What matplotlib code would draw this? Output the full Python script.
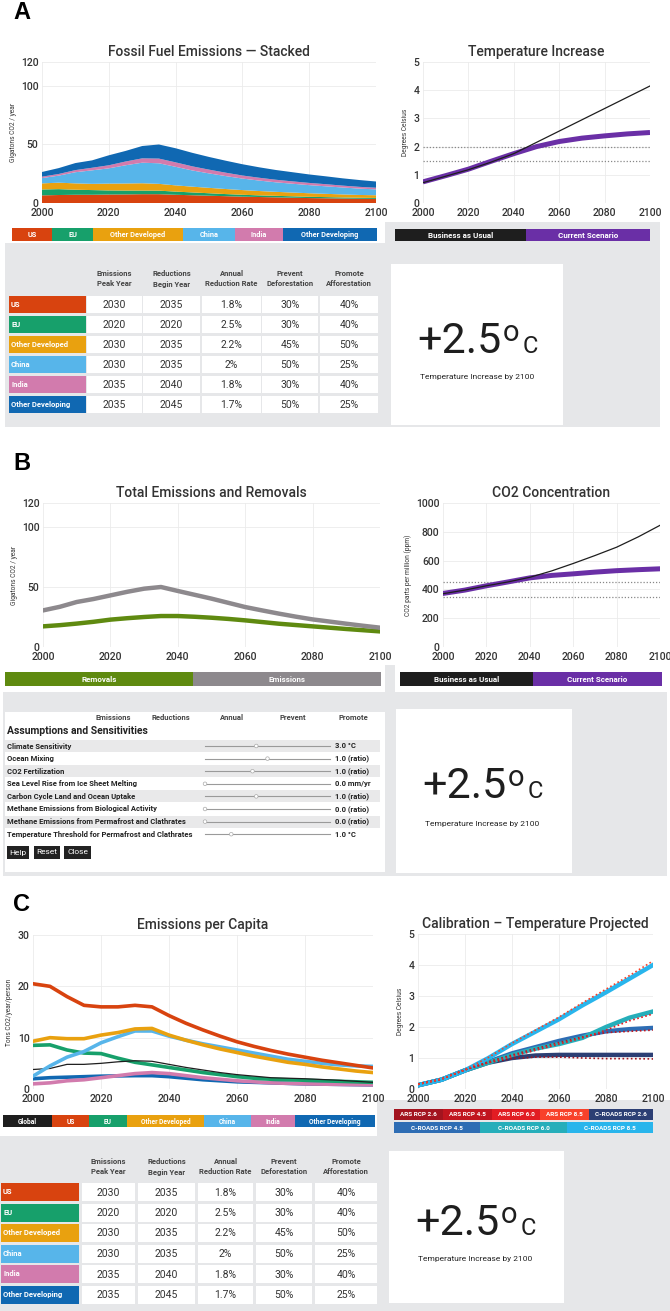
import matplotlib.pyplot as plt
from matplotlib.patches import Rectangle, Circle

plt.rcParams['font.family'] = ['Roboto', 'DejaVu Sans']

W, H = 670, 1311

# ---------------- data ----------------
years5 = list(range(2000, 2101, 5))
years10 = list(range(2000, 2101, 10))

regions = ["US", "EU", "Other Developed", "China", "India", "Other Developing"]
region_colors = ["#d8430f", "#17a06b", "#e9a10f", "#57b5ea", "#d27bad", "#1068b2"]

# stacked fossil fuel emissions (Gt CO2/yr), 5-year steps
ff_us = [6.5, 6.8, 7.0, 7.0, 7.2, 7.3, 7.5, 7.5, 7.0, 6.6, 6.2, 5.8, 5.4, 5.1, 4.8, 4.5, 4.2, 4.0, 3.8, 3.6, 3.5]
ff_eu = [5.0, 5.0, 4.3, 4.0, 3.5, 3.3, 3.1, 3.0, 2.7, 2.4, 2.1, 1.8, 1.6, 1.4, 1.3, 1.2, 1.1, 1.0, 0.9, 0.85, 0.8]
ff_od = [5.2, 5.5, 5.4, 5.3, 5.8, 6.0, 6.2, 5.8, 5.3, 4.9, 4.6, 4.3, 4.0, 3.7, 3.4, 3.2, 3.0, 2.8, 2.6, 2.4, 2.3]
ff_china = [4.5, 6.0, 9.5, 11.5, 13.0, 15.5, 17.5, 17.5, 15.8, 13.8, 12.3, 11.0, 9.8, 8.9, 8.1, 7.5, 6.9, 6.4, 5.9, 5.4, 5.0]
ff_india = [1.2, 1.4, 1.8, 2.2, 2.6, 3.2, 3.7, 4.0, 3.8, 3.5, 3.2, 2.9, 2.6, 2.4, 2.2, 2.0, 1.9, 1.8, 1.6, 1.5, 1.4]
ff_odev = [4.0, 5.0, 6.0, 6.3, 8.5, 9.0, 10.5, 12.0, 12.0, 11.5, 10.8, 10.2, 9.6, 8.9, 8.3, 7.8, 7.2, 6.7, 6.2, 5.8, 5.3]

# temperature increase (deg C), 10-year steps
temp_bau = [0.72, 0.95, 1.18, 1.45, 1.75, 2.15, 2.55, 2.95, 3.35, 3.75, 4.15]
temp_cur = [0.75, 0.97, 1.2, 1.48, 1.75, 2.0, 2.18, 2.3, 2.38, 2.45, 2.5]
temp_limits = [1.5, 2.0]

# total emissions and removals (Gt CO2/yr), 5-year steps
tot_emissions = [30.5, 33.5, 37.5, 40, 43, 46, 48.6, 50, 46.7, 43.5, 40.3, 36.8, 33.3, 30.5, 27.8, 25.3, 23, 21.2, 19.4, 17.7, 16.1]
tot_removals = [17.2, 18.2, 19.5, 21, 22.8, 24, 25, 25.8, 25.8, 25.2, 24.4, 23.4, 22.2, 20.8, 19.4, 18.3, 17.2, 16.1, 15, 14, 13]

# CO2 concentration (ppm), 10-year steps
co2_bau = [370, 395, 425, 452, 484, 528, 580, 635, 693, 765, 845]
co2_cur = [372, 395, 425, 452, 480, 497, 508, 520, 530, 537, 543]
co2_limits = [350, 450]

# emissions per capita (t CO2/yr/person), 5-year steps
pc_global = [3.8, 4.0, 4.8, 4.8, 5.0, 5.3, 5.5, 5.4, 4.8, 4.2, 3.7, 3.2, 2.8, 2.5, 2.2, 2.1, 2.0, 1.85, 1.7, 1.5, 1.3]
pc_us = [20.5, 20.0, 18.0, 16.3, 16.0, 16.0, 16.3, 16.0, 14.3, 12.8, 11.5, 10.3, 9.2, 8.3, 7.5, 6.8, 6.2, 5.6, 5.1, 4.6, 4.1]
pc_eu = [8.5, 8.6, 7.6, 7.0, 6.9, 6.0, 5.2, 4.7, 4.2, 3.7, 3.2, 2.8, 2.4, 2.1, 1.9, 1.8, 1.7, 1.6, 1.5, 1.4, 1.3]
pc_od = [9.3, 10.0, 9.8, 9.8, 10.5, 11.0, 11.7, 11.8, 10.5, 9.5, 8.6, 7.8, 7.1, 6.4, 5.8, 5.2, 4.8, 4.3, 3.9, 3.5, 3.2]
pc_china = [2.5, 4.5, 6.2, 7.3, 9.0, 10.2, 11.3, 11.3, 10.3, 9.5, 8.8, 8.2, 7.6, 7.0, 6.4, 5.8, 5.4, 5.0, 4.7, 4.5, 4.4]
pc_india = [1.0, 1.2, 1.6, 1.8, 2.2, 2.6, 3.0, 3.2, 3.0, 2.6, 2.2, 1.9, 1.6, 1.4, 1.2, 1.1, 1.0, 0.95, 0.9, 0.85, 0.8]
pc_odev = [2.0, 2.2, 2.3, 2.4, 2.5, 2.55, 2.6, 2.6, 2.4, 2.1, 1.8, 1.6, 1.4, 1.3, 1.2, 1.1, 1.0, 0.95, 0.9, 0.85, 0.8]

# calibration runs (deg C), 10-year steps
calib_names = ["ARS RCP 2.6", "ARS RCP 4.5", "ARS RCP 6.0", "ARS RCP 8.5",
               "C-ROADS RCP 2.6", "C-ROADS RCP 4.5", "C-ROADS RCP 6.0", "C-ROADS RCP 8.5"]
calib_colors = ["#a3141f", "#c1151f", "#e21c23", "#f8412a",
                "#2c3f74", "#2e6db4", "#26aeba", "#29b5ec"]
ars26 = [0.15, 0.32, 0.62, 0.85, 0.98, 1.03, 1.03, 1.0, 0.98, 0.98, 0.97]
ars45 = [0.15, 0.32, 0.62, 0.88, 1.1, 1.3, 1.5, 1.68, 1.82, 1.86, 1.9]
ars60 = [0.15, 0.32, 0.62, 0.85, 1.05, 1.25, 1.45, 1.65, 1.9, 2.2, 2.42]
ars85 = [0.15, 0.32, 0.62, 1.02, 1.48, 1.9, 2.32, 2.78, 3.22, 3.66, 4.13]
cr26 = [0.12, 0.3, 0.6, 0.85, 1.0, 1.08, 1.1, 1.1, 1.1, 1.1, 1.1]
cr45 = [0.12, 0.3, 0.6, 0.88, 1.15, 1.35, 1.55, 1.72, 1.86, 1.93, 1.97]
cr60 = [0.12, 0.3, 0.6, 0.85, 1.1, 1.3, 1.45, 1.65, 2.0, 2.3, 2.5]
cr85 = [0.12, 0.3, 0.6, 1.0, 1.45, 1.85, 2.25, 2.7, 3.12, 3.56, 4.0]

# policy table
col_headers = ["Emissions\nPeak Year", "Reductions\nBegin Year", "Annual\nReduction Rate",
               "Prevent\nDeforestation", "Promote\nAfforestation"]
peak_year = ["2030", "2020", "2030", "2030", "2035", "2035"]
reduction_year = ["2035", "2020", "2035", "2035", "2040", "2045"]
reduction_rate = ["1.8%", "2.5%", "2.2%", "2%", "1.8%", "1.7%"]
prevent_defor = ["30%", "30%", "45%", "50%", "30%", "50%"]
promote_affor = ["40%", "40%", "50%", "25%", "40%", "25%"]

# assumptions and sensitivities
assump_labels = ["Climate Sensitivity", "Ocean Mixing", "CO2 Fertilization",
                 "Sea Level Rise from Ice Sheet Melting", "Carbon Cycle Land and Ocean Uptake",
                 "Methane Emissions from Biological Activity",
                 "Methane Emissions from Permafrost and Clathrates",
                 "Temperature Threshold for Permafrost and Clathrates"]
assump_slider = [0.41, 0.50, 0.38, 0.0, 0.41, 0.0, 0.0, 0.21]
assump_values = ["3.0 °C", "1.0 (ratio)", "1.0 (ratio)", "0.0 mm/yr", "1.0 (ratio)",
                 "0.0 (ratio)", "0.0 (ratio)", "1.0 °C"]

final_temp = 2.5

GRAY = "#e6e7e9"
TXT = "#333333"

fig = plt.figure(figsize=(W / 100, H / 100), dpi=100)
bg = fig.add_axes([0, 0, 1, 1])
bg.set_xlim(0, W)
bg.set_ylim(H, 0)
bg.axis('off')


def rect(x0, y0, x1, y1, color):
    bg.add_patch(Rectangle((x0, y0), x1 - x0, y1 - y0, color=color, lw=0))


def chart(x0, y0, x1, y1, title, ylabel, ymax, yticks):
    ax = fig.add_axes([x0 / W, 1 - y1 / H, (x1 - x0) / W, (y1 - y0) / H])
    ax.set_xlim(2000, 2100)
    ax.set_ylim(0, ymax)
    ax.set_xticks(range(2000, 2101, 20))
    ax.set_yticks(yticks)
    ax.grid(color='#ebebeb', lw=0.6)
    ax.set_axisbelow(True)
    for s in ax.spines.values():
        s.set_visible(False)
    ax.tick_params(length=0, labelsize=7.5, labelcolor=TXT)
    ax.tick_params(axis='x', pad=3.5)
    ax.tick_params(axis='y', pad=2.5)
    for t in ax.get_xticklabels() + ax.get_yticklabels():
        t.set_fontweight(500)
    ax.set_title(title, fontsize=10, color=TXT, pad=4, fontweight=500)
    ax.set_ylabel(ylabel, fontsize=4.8, color=TXT, labelpad=3)
    return ax


def legend_bar(edges, y0, y1, labels, colors, size=5.3):
    for i, (lab, col) in enumerate(zip(labels, colors)):
        rect(edges[i], y0, edges[i + 1], y1, col)
        bg.text((edges[i] + edges[i + 1]) / 2, (y0 + y1) / 2 + 0.5, lab, color='white',
                fontsize=size, ha='center', va='center', fontweight='bold')


def temp_box(x0, y0, x1, y1, base, lab_y):
    rect(x0, y0, x1, y1, 'white')
    bg.text(x0 + 111, y0 + base, f"+{final_temp}", fontsize=31, ha='right', va='baseline', color='#1e1e1e')
    bg.text(x0 + 112, y0 + base - 34, "o", fontsize=21, ha='left', va='top', color='#1e1e1e')
    bg.text(x0 + 132, y0 + base, "C", fontsize=17, ha='left', va='baseline', color='#1e1e1e')
    bg.text(x0 + 86, y0 + lab_y, "Temperature Increase by 2100", fontsize=6, ha='center',
            va='center', color='#222')


def region_table(hdr_y, row_top, pitch, row_h, label_x, cols):
    for (c0, c1), hdr in zip(cols, col_headers):
        bg.text((c0 + c1) / 2, hdr_y, hdr, fontsize=5.5, fontweight='bold', color='#444',
                ha='center', va='center', linespacing=1.5)
    table_cols = [peak_year, reduction_year, reduction_rate, prevent_defor, promote_affor]
    for i, (name, col) in enumerate(zip(regions, region_colors)):
        y0 = row_top + i * pitch
        rect(label_x[0], y0, label_x[1], y0 + row_h, col)
        bg.text(label_x[0] + 2, y0 + row_h / 2, name, fontsize=5.5, fontweight='bold',
                color='white', ha='left', va='center')
        for (c0, c1), vals in zip(cols, table_cols):
            rect(c0, y0, c1, y0 + row_h, 'white')
            bg.text((c0 + c1) / 2, y0 + row_h / 2 + 0.5, vals[i], fontsize=7.5, color=TXT,
                    ha='center', va='center')


def panel_label(x, y, s):
    bg.text(x, y, s, fontsize=17, fontweight='bold', family='Liberation Sans',
            ha='left', va='top', color='black')


# ---------------- panel A ----------------
panel_label(13, 1, "A")
rect(5, 243, 660, 427, GRAY)
rect(385, 222, 660, 243, GRAY)

ax = chart(42, 62, 376, 203, "Fossil Fuel Emissions — Stacked", "Gigatons CO2 / year", 120, [0, 50, 100, 120])
ax.stackplot(years5, ff_us, ff_eu, ff_od, ff_china, ff_india, ff_odev, colors=region_colors, lw=0)
legend_bar([12, 52, 93, 183, 235, 283, 377], 228, 241, regions, region_colors)

ax = chart(423, 62, 650, 203, "Temperature Increase", "Degrees Celsius", 5, range(0, 6))
for lim in temp_limits:
    ax.axhline(lim, color='#888', ls=(0, (1, 1.5)), lw=0.9)
ax.plot(years10, temp_cur, color='#6a2fa6', lw=3.6, solid_capstyle='butt')
ax.plot(years10, temp_bau, color='#1e1e1e', lw=0.9)
legend_bar([395, 526, 650], 229, 241, ["Business as Usual", "Current Scenario"], ["#1e1e1e", "#6a2fa6"], size=5.8)

region_table(279, 296, 20, 17, (9, 86),
             [(87, 142), (143, 200), (202, 261), (262, 318), (320, 378)])
temp_box(391, 264, 563, 425, 89, 113)

# ---------------- panel B ----------------
panel_label(13, 452, "B")
rect(3, 692, 667, 876, GRAY)
rect(385, 665, 395, 692, GRAY)

ax = chart(43, 503, 380, 647, "Total Emissions and Removals", "Gigatons CO2 / year", 120, [0, 50, 100, 120])
ax.plot(years5, tot_removals, color='#5f8a10', lw=3.2)
ax.plot(years5, tot_emissions, color='#8d898d', lw=3.2)
legend_bar([5, 193, 381], 672, 686, ["Removals", "Emissions"], ["#5f8a10", "#8d898d"], size=5.8)

ax = chart(443, 503, 660, 647, "CO2 Concentration", "CO2 parts per million (ppm)", 1000, range(0, 1001, 200))
for lim in co2_limits:
    ax.axhline(lim, color='#888', ls=(0, (1, 1.5)), lw=0.9)
ax.plot(years10, co2_cur, color='#6a2fa6', lw=3.6)
ax.plot(years10, co2_bau, color='#1e1e1e', lw=0.9)
legend_bar([400, 533, 662], 672, 686, ["Business as Usual", "Current Scenario"], ["#1e1e1e", "#6a2fa6"], size=5.8)

# assumptions panel
rect(5, 712, 385, 872, 'white')
for cx, hdr in zip([113, 171, 232, 293, 353], col_headers):
    bg.text(cx, 718, hdr.split("\n")[0], fontsize=5.5, fontweight='bold', color='#444',
            ha='center', va='center')
bg.text(7, 731, "Assumptions and Sensitivities", fontsize=7.5, fontweight='bold', color='#222',
        ha='left', va='center')
for i, (lab, pos, val) in enumerate(zip(assump_labels, assump_slider, assump_values)):
    yc = 746 + i * 12.6
    if i % 2 == 0:
        rect(5, yc - 6, 380, yc + 6, "#e9e9ea")
    bg.text(7, yc, lab, fontsize=5.5, fontweight='bold', color='#222', ha='left', va='center')
    bg.plot([205, 330], [yc, yc], color='#9a9a9a', lw=0.8)
    bg.add_patch(Circle((205 + pos * 125, yc), 1.8, facecolor='white', edgecolor='#aaa', lw=0.5, zorder=3))
    bg.text(335, yc, val, fontsize=5.5, fontweight='bold', color='#222', ha='left', va='center')
for (b0, b1), lab in zip([(7, 29), (34, 60), (64, 91)], ["Help", "Reset", "Close"]):
    rect(b0, 846, b1, 859, '#222')
    bg.text((b0 + b1) / 2, 852.5, lab, fontsize=6, color='white', ha='center', va='center')

temp_box(396, 709, 572, 873, 89, 115)

# ---------------- panel C ----------------
panel_label(13, 893, "C")
rect(0, 1136, 670, 1311, GRAY)
rect(377, 1100, 670, 1136, GRAY)

ax = chart(33, 935, 373, 1089, "Emissions per Capita", "Tons CO2/year/person", 30, [0, 10, 20, 30])
ax.plot(years5, pc_odev, color=region_colors[5], lw=2.6)
ax.plot(years5, pc_india, color=region_colors[4], lw=2.6)
ax.plot(years5, pc_eu, color=region_colors[1], lw=2.6)
ax.plot(years5, pc_global, color='#1e1e1e', lw=0.9)
ax.plot(years5, pc_china, color=region_colors[3], lw=2.6)
ax.plot(years5, pc_od, color=region_colors[2], lw=2.6)
ax.plot(years5, pc_us, color=region_colors[0], lw=2.6)
legend_bar([3, 52, 89, 127, 204, 251, 295, 375], 1115, 1127,
           ["Global"] + regions, ["#1e1e1e"] + region_colors, size=4.8)

ax = chart(418, 934, 653, 1089, "Calibration – Temperature Projected", "Degrees Celsius", 5, range(0, 6))
for series, col in zip([cr26, cr45, cr60, cr85], calib_colors[4:]):
    ax.plot(years10, series, color=col, lw=3.2)
for series, col in zip([ars26, ars45, ars60, ars85], calib_colors[:4]):
    ax.plot(years10, series, color=col, lw=1.2, ls=(0, (1, 1.5)))
legend_bar([394, 443, 492, 540, 589, 653], 1109, 1120, calib_names[:5], calib_colors[:5], size=4.6)
legend_bar([394, 480, 567, 653], 1122, 1133, calib_names[5:], calib_colors[5:], size=4.6)

region_table(1167, 1183, 20.5, 18, (1, 79),
             [(82, 135), (138, 195), (198, 253), (256, 312), (315, 377)])
temp_box(389, 1151, 564, 1303, 84, 108)

fig.savefig("out.png", dpi=100)
